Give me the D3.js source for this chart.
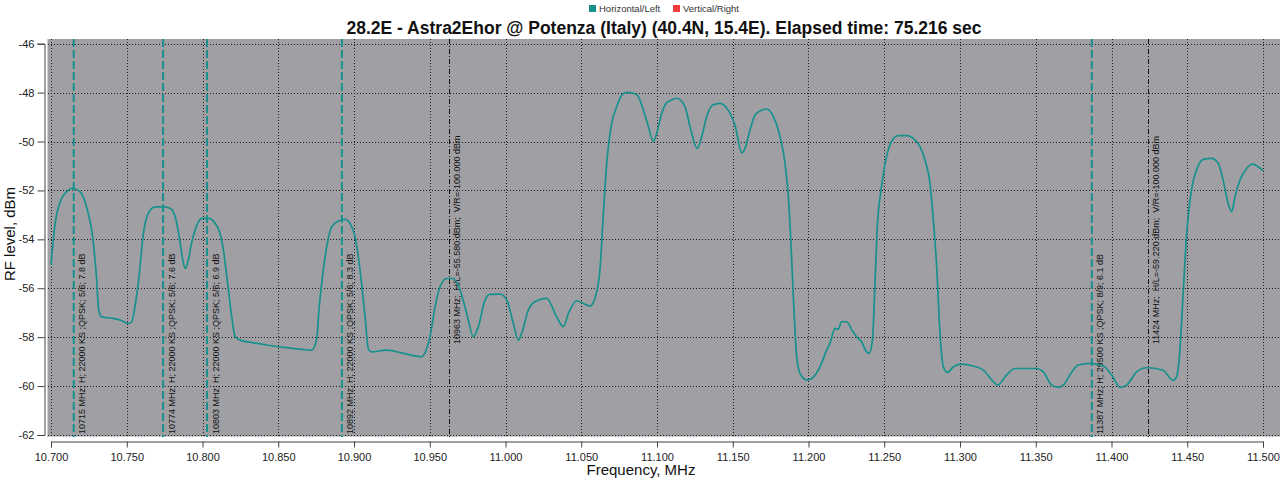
<!DOCTYPE html>
<html>
<head>
<meta charset="utf-8">
<script src="https://cdn.jsdelivr.net/npm/d3@7"></script>
<style>
  html, body { margin: 0; padding: 0; background: #ffffff; }
  svg { display: block; }
  text { font-family: "Liberation Sans", Arial, sans-serif; }
</style>
</head>
<body>
<svg id="chart" width="1280" height="480"></svg>
<script>
// ---------------- DATA ----------------
const titleText = "28.2E - Astra2Ehor @ Potenza (Italy) (40.4N, 15.4E). Elapsed time: 75.216 sec";
const xAxisTitle = "Frequency, MHz";
const yAxisTitle = "RF level, dBm";
const legendLabels = ["Horizontal/Left", "Vertical/Right"];

const freqDomain = [10.7, 11.5];
const levelDomain = [-62, -46];
const xTickValues = [10.70, 10.75, 10.80, 10.85, 10.90, 10.95, 11.00, 11.05, 11.10, 11.15, 11.20, 11.25, 11.30, 11.35, 11.40, 11.45, 11.50];
const xTickLabels = ["10.700","10.750","10.800","10.850","10.900","10.950","11.000","11.050","11.100","11.150","11.200","11.250","11.300","11.350","11.400","11.450","11.500"];
const yTickValues = [-62, -60, -58, -56, -54, -52, -50, -48, -46];
const yTickLabels = ["-62","-60","-58","-56","-54","-52","-50","-48","-46"];

// Horizontal/Left spectrum trace (frequency, level in dBm)
const freqs = [
10.7000,10.7026,10.7071,10.7104,10.7143,10.7191,10.7240,10.7275,10.7300,10.7315,
10.7335,10.7410,10.7455,10.7510,10.7533,10.7554,10.7576,10.7610,10.7642,10.7686,
10.7742,10.7786,10.7820,10.7848,10.7870,10.7886,10.7901,10.7930,10.7963,10.7995,
10.8040,10.8084,10.8116,10.8138,10.8171,10.8193,10.8215,10.8248,10.8335,10.8424,
10.8534,10.8644,10.8720,10.8743,10.8758,10.8765,10.8787,10.8820,10.8853,10.8897,
10.8941,10.8974,10.9007,10.9040,10.9073,10.9095,10.9116,10.9215,10.9325,10.9446,
10.9480,10.9502,10.9535,10.9568,10.9612,10.9656,10.9700,10.9744,10.9788,10.9821,
10.9865,10.9898,10.9964,11.0008,11.0052,11.0085,11.0107,11.0151,11.0184,11.0272,
11.0338,11.0382,11.0415,11.0470,11.0514,11.0558,11.0591,11.0624,11.0646,11.0668,
11.0701,11.0734,11.0767,11.0800,11.0844,11.0870,11.0910,11.0943,11.0976,11.0998,
11.1031,11.1064,11.1097,11.1130,11.1185,11.1218,11.1266,11.1295,11.1328,11.1368,
11.1416,11.1482,11.1515,11.1559,11.1581,11.1614,11.1647,11.1680,11.1724,11.1768,
11.1812,11.1845,11.1867,11.1883,11.1900,11.1922,11.1944,11.1988,11.2021,11.2076,
11.2120,11.2142,11.2175,11.2196,11.2218,11.2251,11.2284,11.2317,11.2350,11.2379,
11.2400,11.2422,11.2438,11.2453,11.2482,11.2515,11.2548,11.2592,11.2647,11.2703,
11.2736,11.2769,11.2802,11.2824,11.2846,11.2868,11.2890,11.2917,11.2957,11.3000,
11.3088,11.3154,11.3220,11.3249,11.3297,11.3363,11.3506,11.3550,11.3606,11.3649,
11.3682,11.3738,11.3781,11.3858,11.3946,11.4001,11.4056,11.4100,11.4166,11.4232,
11.4340,11.4406,11.4429,11.4450,11.4473,11.4495,11.4528,11.4561,11.4605,11.4660,
11.4704,11.4737,11.4770,11.4793,11.4815,11.4848,11.4892,11.4931,11.4968,11.5000
];
const levelsH = [
-55.05,-53.41,-52.32,-52.05,-51.91,-52.05,-52.80,-53.90,-55.53,-56.89,
-57.17,-57.23,-57.30,-57.44,-57.37,-56.76,-55.80,-53.76,-52.94,-52.67,
-52.67,-52.73,-53.08,-53.96,-54.85,-55.19,-54.98,-54.10,-53.42,-53.14,
-53.14,-53.35,-53.76,-54.44,-56.07,-57.17,-57.96,-58.12,-58.23,-58.32,
-58.42,-58.49,-58.53,-58.32,-57.85,-57.17,-55.80,-54.30,-53.48,-53.25,
-53.18,-53.35,-53.89,-55.26,-57.17,-58.50,-58.60,-58.53,-58.66,-58.80,
-58.46,-57.98,-56.76,-55.94,-55.60,-55.60,-56.07,-57.03,-57.98,-57.57,
-56.48,-56.25,-56.24,-56.48,-57.44,-58.12,-57.84,-56.89,-56.59,-56.41,
-57.17,-57.57,-57.03,-56.51,-56.62,-56.73,-56.40,-55.20,-52.94,-50.89,
-49.26,-48.58,-48.10,-47.99,-48.03,-48.10,-48.71,-49.39,-50.00,-49.66,
-48.85,-48.41,-48.30,-48.23,-48.58,-49.39,-50.28,-49.80,-48.98,-48.51,
-48.44,-48.85,-49.33,-50.46,-50.28,-49.53,-48.92,-48.75,-48.67,-48.98,
-49.80,-50.89,-52.26,-54.03,-56.35,-58.80,-59.48,-59.75,-59.69,-59.21,
-58.53,-58.25,-57.64,-57.68,-57.37,-57.37,-57.68,-57.98,-58.19,-58.56,
-58.66,-58.12,-55.94,-53.62,-51.85,-50.62,-50.00,-49.76,-49.76,-49.94,
-50.21,-50.76,-51.71,-53.21,-55.12,-57.84,-59.21,-59.44,-59.21,-59.10,
-59.18,-59.35,-59.82,-59.96,-59.62,-59.28,-59.28,-59.42,-59.96,-60.05,
-59.96,-59.42,-59.14,-59.07,-59.18,-59.55,-60.05,-59.96,-59.42,-59.25,
-59.35,-59.76,-59.62,-58.66,-56.21,-53.89,-51.98,-51.17,-50.73,-50.69,
-50.89,-51.58,-52.53,-52.87,-52.26,-51.58,-51.10,-50.92,-51.03,-51.19
];

// Transponder markers (Horizontal)
const txFreqs = [10.715, 10.774, 10.803, 10.892, 11.387];
const txLabels = [
  "10715 MHz; H; 22000 KS ;QPSK; 5/6; 7.8 dB",
  "10774 MHz; H; 22000 KS ;QPSK; 5/6; 7.6 dB",
  "10803 MHz; H; 22000 KS ;QPSK; 5/6; 6.9 dB",
  "10892 MHz; H; 22000 KS ;QPSK; 5/6; 8.3 dB",
  "11387 MHz; H; 29500 KS ;QPSK; 8/9; 6.1 dB"
];
// Cursor markers
const cursorFreqs = [10.963, 11.424];
const cursorLabels = [
  "10963 MHz;  H/L=-55.580 dBm;  V/R=-100.000 dBm",
  "11424 MHz;  H/L=-59.220 dBm;  V/R=-100.000 dBm"
];

// ---------------- DRAW ----------------
const svg = d3.select("#chart");
const plot = { left: 47, top: 39, right: 1280, bottom: 437 };

const x = d3.scaleLinear().domain(freqDomain).range([51, 1263]);
const y = d3.scaleLinear().domain(levelDomain).range([435, 43.7]);

const teal = "#17918d";
const gridColor = "#1e1e1e";

// plot background
svg.append("rect")
  .attr("x", plot.left).attr("y", plot.top)
  .attr("width", plot.right - plot.left).attr("height", plot.bottom - plot.top)
  .attr("fill", "#a0a0a4");
svg.append("path")
  .attr("d", `M${plot.left + 0.5},${plot.top} V${plot.bottom - 0.5} H${plot.right}`)
  .attr("fill", "none").attr("stroke", "#cfcfd2").attr("stroke-width", 1);

// grid
const grid = svg.append("g");
grid.selectAll("line.vg").data(xTickValues).join("line")
  .attr("x1", d => Math.round(x(d)) + 0.5).attr("x2", d => Math.round(x(d)) + 0.5)
  .attr("y1", plot.top).attr("y2", plot.bottom - 1)
  .attr("stroke", gridColor).attr("stroke-width", 1).attr("stroke-dasharray", "1,2");
grid.selectAll("line.hg").data(yTickValues).join("line")
  .attr("x1", plot.left + 1).attr("x2", plot.right)
  .attr("y1", d => Math.round(y(d)) + 0.5).attr("y2", d => Math.round(y(d)) + 0.5)
  .attr("stroke", gridColor).attr("stroke-width", 1).attr("stroke-dasharray", "1,2");

// transponder markers
const mk = svg.append("g");
mk.selectAll("line.tx").data(txFreqs).join("line")
  .attr("x1", d => x(d)).attr("x2", d => x(d))
  .attr("y1", plot.top).attr("y2", plot.bottom)
  .attr("stroke", teal).attr("stroke-width", 2).attr("stroke-dasharray", "8,3");
mk.selectAll("text.tx").data(txFreqs).join("text")
  .attr("transform", (d) => `translate(${x(d) + 11.5},434) rotate(-90)`)
  .attr("font-size", 9).attr("fill", "#111").style("white-space", "pre")
  .text((d, i) => txLabels[i]);

// cursor markers
mk.selectAll("line.cur").data(cursorFreqs).join("line")
  .attr("x1", d => Math.round(x(d)) + 0.5).attr("x2", d => Math.round(x(d)) + 0.5)
  .attr("y1", plot.top).attr("y2", plot.bottom)
  .attr("stroke", "#111").attr("stroke-width", 1).attr("stroke-dasharray", "5,2,1,2");
mk.selectAll("text.cur").data(cursorFreqs).join("text")
  .attr("transform", (d) => `translate(${x(d) + 11},344) rotate(-90)`)
  .attr("font-size", 9).attr("fill", "#111").style("white-space", "pre")
  .text((d, i) => cursorLabels[i]);

// spectrum line
const series = freqs.map((f, i) => ({ f, v: levelsH[i] }));
svg.append("path")
  .datum(series)
  .attr("fill", "none").attr("stroke", teal).attr("stroke-width", 1.7)
  .attr("stroke-linejoin", "round")
  .attr("d", d3.line().x(d => x(d.f)).y(d => y(d.v)).curve(d3.curveMonotoneX));

// x axis
const xAxisG = svg.append("g").attr("transform", "translate(0,441.5)");
xAxisG.call(d3.axisBottom(x).tickValues(d3.range(0, 161).map(i => 10.7 + i * 0.005)).tickSize(3).tickFormat(""))
  .call(g => g.select(".domain").remove());
xAxisG.call(d3.axisBottom(x).tickValues(xTickValues).tickSize(6).tickPadding(6).tickFormat((d, i) => xTickLabels[i]))
  .call(g => g.select(".domain").attr("stroke", "#404040"));
xAxisG.selectAll("line").attr("stroke", "#404040");
xAxisG.selectAll("text").attr("font-size", 11).attr("fill", "#222").attr("font-family", "Liberation Sans, Arial, sans-serif");

// y axis
const yAxisG = svg.append("g").attr("transform", "translate(44.5,0)");
yAxisG.call(d3.axisLeft(y).tickValues(d3.range(0, 81).map(i => -62 + i * 0.2)).tickSize(4).tickFormat(""))
  .call(g => g.select(".domain").remove());
yAxisG.call(d3.axisLeft(y).tickValues(yTickValues).tickSize(7).tickPadding(3).tickFormat((d, i) => yTickLabels[i]))
  .call(g => g.select(".domain").attr("stroke", "#404040"));
yAxisG.selectAll("line").attr("stroke", "#404040");
yAxisG.selectAll("text").attr("font-size", 11).attr("fill", "#222").attr("font-family", "Liberation Sans, Arial, sans-serif");

// title
svg.append("text")
  .attr("x", 664).attr("y", 34).attr("text-anchor", "middle")
  .attr("font-size", 17.5).attr("font-weight", "bold").attr("fill", "#111")
  .text(titleText);

// axis titles
svg.append("text")
  .attr("x", 641).attr("y", 475).attr("text-anchor", "middle")
  .attr("font-size", 15).attr("fill", "#111")
  .text(xAxisTitle);
svg.append("text")
  .attr("transform", "translate(15,234) rotate(-90)").attr("text-anchor", "middle")
  .attr("font-size", 15).attr("fill", "#111")
  .text(yAxisTitle);

// legend
const legendColors = [teal, "#f23b3b"];
const legendX = [589, 673];
const lg = svg.append("g");
lg.selectAll("rect").data(legendLabels).join("rect")
  .attr("x", (d, i) => legendX[i]).attr("y", 5)
  .attr("width", 7).attr("height", 7)
  .attr("fill", (d, i) => legendColors[i]);
lg.selectAll("text").data(legendLabels).join("text")
  .attr("x", (d, i) => legendX[i] + 10).attr("y", 12)
  .attr("font-size", 9.5).attr("fill", "#333")
  .text(d => d);
</script>
</body>
</html>
